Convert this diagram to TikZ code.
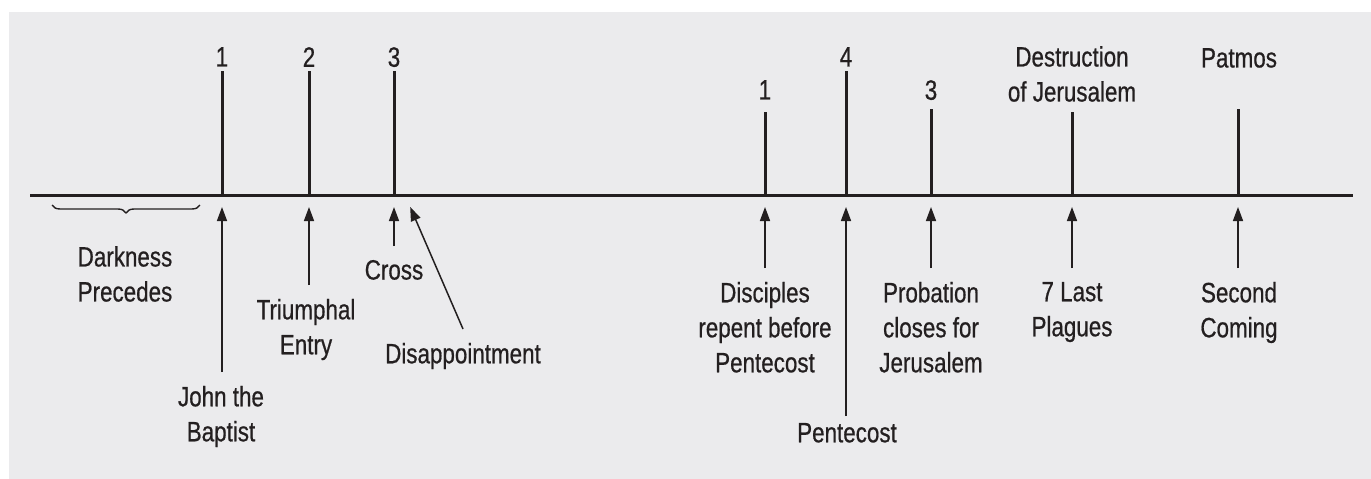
\documentclass[tikz,border=0pt]{standalone}
\usepackage{fontspec}
\setmainfont{Liberation Sans}[FakeStretch=0.8, FakeBold=0.6]
\usetikzlibrary{arrows.meta,decorations.pathreplacing}
\definecolor{panel}{HTML}{EBEBED}
\definecolor{ink}{HTML}{231F20}

\begin{document}
\begin{tikzpicture}[x=1pt,y=-1pt,
    axis/.style={ink, line width=3pt},
    tick/.style={ink, line width=3pt},
    pointer/.style={ink, line width=1.5pt, -{Triangle[length=14pt,width=10pt]}, shorten >=12pt},
    brace/.style={ink, line width=1.4pt, decorate, decoration={brace, mirror, amplitude=8pt}},
    toplabel/.style={anchor=north, inner sep=0pt, align=center, text=ink, font=\fontsize{28}{35}\selectfont},
    note/.style={toplabel, outer sep=14pt}]

    % panel
    \fill[panel] (9,12) rectangle (1371,479);
    \useasboundingbox (0,0) rectangle (1371,479);

    % time line and ticks
    \draw[axis] (30,195) -- (1353,195);
    \foreach \name/\x/\top in {jb/222/71, te/309/71, cr/394/71, dr/765/112, pc/846/71, pb/931/109, dj/1072/112, pm/1238/109} {
        \coordinate (\name) at (\x,195);
        \draw[tick] (\name) -- (\x,\top);
    }
    \coordinate (dp) at (405,195);

    % numbers and names above the line
    \node[toplabel] (n1) at (222,47) {1};
    \node[toplabel] (n2) at (309,47) {2};
    \node[toplabel] (n3) at (394,47) {3};
    \node[toplabel] (m1) at (765,80) {1};
    \node[toplabel] (m4) at (846,47) {4};
    \node[toplabel] (m3) at (931,80) {3};
    \node[toplabel] (ruin) at (1072,46) {Destruction\\of Jerusalem};
    \node[toplabel] (patmos) at (1239,48) {Patmos};

    % events below the line
    \draw[brace] (52,205) -- (200,205);
    \node[toplabel] (dark) at (125,246) {Darkness\\Precedes};
    \node[note] (john) at (221,372) {John the\\Baptist};
    \node[note] (entry) at (306,285) {Triumphal\\Entry};
    \node[note] (cross) at (394,246) {Cross};
    \node[note] (disap) at (463,329) {Disappointment};
    \node[note] (repent) at (765,268) {Disciples\\repent before\\Pentecost};
    \node[note] (pente) at (847,409) {Pentecost};
    \node[note] (probat) at (931,268) {Probation\\closes for\\Jerusalem};
    \node[note] (plague) at (1072,268) {7 Last\\Plagues};
    \node[note] (coming) at (1239,268) {Second\\Coming};

    \draw[pointer] (john.north -| jb) -- (jb);
    \draw[pointer] (entry.north -| te) -- (te);
    \draw[pointer] (cross.north -| cr) -- (cr);
    \draw[pointer, shorten >=13pt] (disap.north) -- (dp);
    \draw[pointer] (repent.north -| dr) -- (dr);
    \draw[pointer, shorten <=-7pt] (pente.north -| pc) -- (pc);
    \draw[pointer] (probat.north -| pb) -- (pb);
    \draw[pointer] (plague.north -| dj) -- (dj);
    \draw[pointer] (coming.north -| pm) -- (pm);
\end{tikzpicture}
\end{document}
